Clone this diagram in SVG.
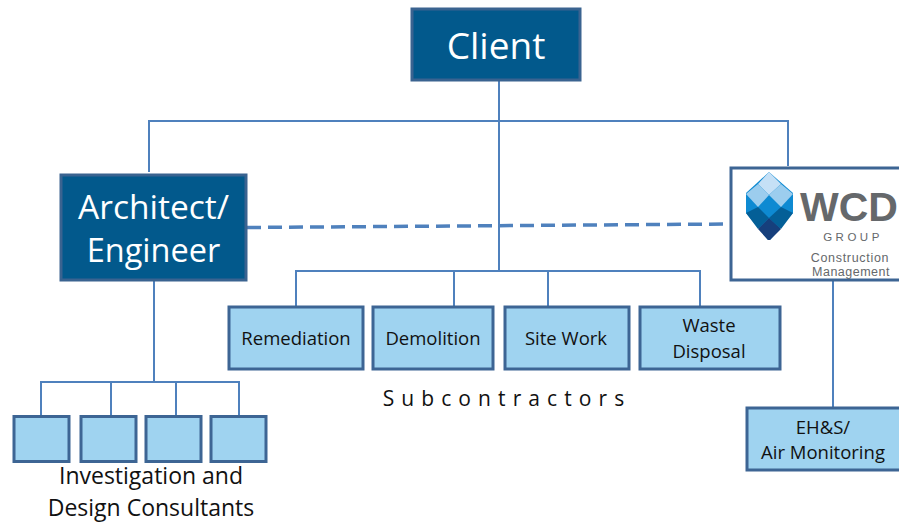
<svg xmlns="http://www.w3.org/2000/svg" width="899" height="522" viewBox="0 0 899 522">
<style>
text{font-family:"Open Sans","Noto Sans","Liberation Sans",sans-serif;fill:#111;text-anchor:middle}
.dark{fill:#02598c;stroke:#3a6390;stroke-width:3}
.dark-t{fill:#fff;font-size:34px}
.sub{fill:#9fd3f0;stroke:#3d6594;stroke-width:3}
.sub-t{font-size:18.5px}
.line{fill:none;stroke:#4f81bd;stroke-width:2}
.dash{fill:none;stroke:#4f81bd;stroke-width:3.500;stroke-dasharray:14 7}
.logo-t{font-family:"Liberation Sans",Arial,sans-serif;fill:#65686b}
</style>
<rect width="899" height="522" fill="#fff"/>
<g id="connectors">
<path class="line" d="M499 80V271M149 172V121H788V166M296 306V271H700V306M454 271V306M548 271V306M154 280V381M41 416V382H239V416M111 382V416M176 382V416M833 280V407"/>
<path class="dash" d="M247 227.500L731 224"/>
</g>
<g id="client"><rect class="dark" x="412" y="9" width="168" height="71"/><text class="dark-t" x="496" y="59" style="font-size:37px">Client</text></g>
<g id="architect"><rect class="dark" x="61" y="175" width="185" height="105"/><text class="dark-t" x="153.500" y="219" style="font-size:33.500px">Architect/</text><text class="dark-t" x="153.500" y="262" style="font-size:32.500px">Engineer</text></g>
<g id="wcd">
<rect x="731" y="168" width="180" height="112" fill="#fff" stroke="#3d6594" stroke-width="3"/>
<polygon points="769,172 793,193 793,213 770,240 768,240 746,213 746,193" fill="#0e8ad2"/>
<polygon points="769,172 781,184 769,195 758,184" fill="#c5e0f6"/>
<polygon points="758,184 769,195 758,207 746,194" fill="#9ccdee"/>
<polygon points="781,184 793,194 781,207 769,195" fill="#9ccdee"/>
<polygon points="758,207 769,218 758,229 746,213" fill="#045f97"/>
<polygon points="781,207 793,213 781,229 769,218" fill="#045f97"/>
<polygon points="769,218 781,229 770,240 768,240 758,229" fill="#163f7c"/>
<text class="logo-t" x="800" y="221" font-size="41" font-weight="700" style="text-anchor:start">WCD</text>
<text class="logo-t" x="853" y="241" font-size="11.500" letter-spacing="3.500">GROUP</text>
<text class="logo-t" x="850" y="262" font-size="12.500" letter-spacing="0.700">Construction</text>
<text class="logo-t" x="851" y="276" font-size="12.500" letter-spacing="0.500">Management</text>
</g>
<g id="remediation"><rect class="sub" x="229" y="307" width="134" height="62"/><text class="sub-t" x="296" y="345">Remediation</text></g>
<g id="demolition"><rect class="sub" x="373" y="307" width="120" height="62"/><text class="sub-t" x="433" y="345">Demolition</text></g>
<g id="sitework"><rect class="sub" x="505" y="307" width="124" height="62"/><text class="sub-t" x="566" y="345">Site Work</text></g>
<g id="waste"><rect class="sub" x="640" y="307" width="140" height="62"/><text class="sub-t" x="709" y="332">Waste</text><text class="sub-t" x="709" y="358">Disposal</text></g>
<g id="ehs"><rect class="sub" x="747" y="408" width="156" height="62"/><text class="sub-t" x="823" y="434">EH&amp;S/</text><text class="sub-t" x="823" y="459">Air Monitoring</text></g>
<g id="consultant1"><rect class="sub" x="14" y="416.500" width="55" height="45"/></g>
<g id="consultant2"><rect class="sub" x="81" y="416.500" width="55" height="45"/></g>
<g id="consultant3"><rect class="sub" x="146" y="416.500" width="55" height="45"/></g>
<g id="consultant4"><rect class="sub" x="211" y="416.500" width="55" height="45"/></g>
<text x="507" y="406" font-size="21" letter-spacing="7.100">Subcontractors</text>
<text x="151" y="484" font-size="23">Investigation and</text>
<text x="151" y="516" font-size="23">Design Consultants</text>
</svg>
